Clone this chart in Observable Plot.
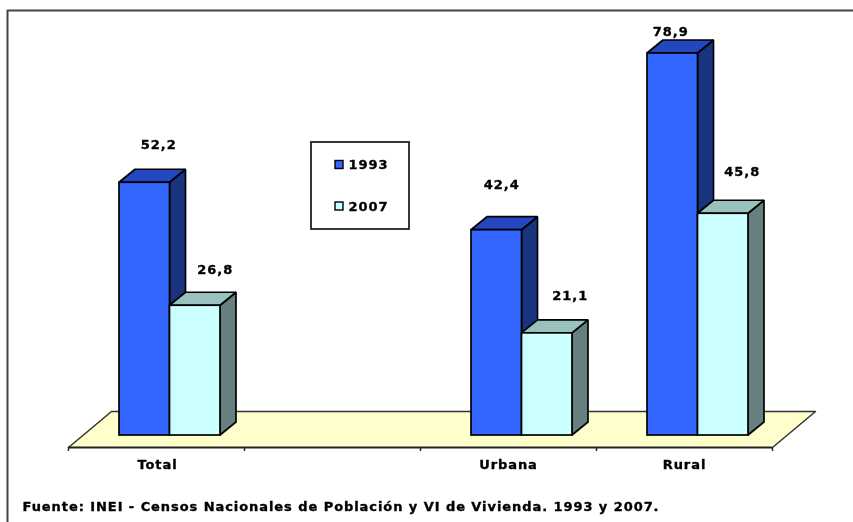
<!DOCTYPE html>
<html><head><meta charset="utf-8">
<script src="https://cdn.jsdelivr.net/npm/d3@7"></script>
<script src="https://cdn.jsdelivr.net/npm/@observablehq/plot@0.6"></script>
<style>
html,body{margin:0;padding:0;background:#fff;overflow:hidden}
svg{display:block;filter:blur(0.45px)}
svg text{letter-spacing:0.93px}
</style></head><body>
<div id="chart"></div>
<script>
const categories = ["Total", "", "Urbana", "Rural"];
const years = ["1993", "2007"];
const values1993 = [52.2, null, 42.4, 78.9];
const values2007 = [26.8, null, 21.1, 45.8];
const labels = ["52,2", "26,8", "42,4", "21,1", "78,9", "45,8"];
const labelOffsets = [[14, 38], [20, 36], [5, 45], [23, 38], [-2, 22], [19, 42]];
const colors = {"1993": {front: "#3366ff", side: "#19337f", top: "#2347bf"},
                "2007": {front: "#ccffff", side: "#667f7f", top: "#99c2bf"}};
const floorColor = "#ffffcc";
const source = "Fuente: INEI - Censos Nacionales de Población y VI de Vivienda. 1993 y 2007.";

const W = 853, H = 522;
// scale set-up: one x unit is one category slot, y is the percentage
const xRange = [68, 772], yRange = [435, 53], yMax = 78.9;
const X = p => (p - xRange[0]) / (xRange[1] - xRange[0]) * categories.length;
const Y = p => (yRange[0] - p) / (yRange[0] - yRange[1]) * yMax;
const unitX = (xRange[1] - xRange[0]) / categories.length;
const unitY = (yRange[0] - yRange[1]) / yMax;
const barW = 50.5 / unitX, barStart = 51 / unitX;
const depthX = 16 / unitX, depthY = 13 / unitY;

const bars = [];
categories.forEach((c, i) => {
  [values1993[i], values2007[i]].forEach((v, j) => {
    if (v == null) return;
    const x1 = i + barStart + j * barW;
    bars.push({year: years[j], v, x1, x2: x1 + barW});
  });
});
const faceOpts = {stroke: "#000", strokeWidth: 1.7, strokeLinejoin: "miter"};
const marks = [];

// floor
const floorL = [{y: Y(447), x1: 0, x2: 4}, {y: Y(411), x1: X(111), x2: X(815)}];
marks.push(Plot.areaX(floorL, {y: "y", x1: "x1", x2: "x2", fill: floorColor}));
marks.push(Plot.line([{x: floorL[0].x1, y: floorL[0].y}, {x: floorL[1].x1, y: floorL[1].y}, {x: floorL[1].x2, y: floorL[1].y}, {x: floorL[0].x2, y: floorL[0].y}],
  {x: "x", y: "y", stroke: "#333", strokeWidth: 1.5}));
// axis line and ticks
marks.push(Plot.ruleY([Y(447)], {x1: 0, x2: 4, stroke: "#222", strokeWidth: 1.8}));
marks.push(Plot.ruleX(d3.range(categories.length + 1), {y1: Y(447), y2: Y(451), stroke: "#222", strokeWidth: 1.4}));

// bars
bars.forEach(b => {
  const c = colors[b.year];
  // right side face
  marks.push(Plot.areaY([{x: b.x2, y1: 0, y2: b.v}, {x: b.x2 + depthX, y1: depthY, y2: b.v + depthY}],
    {x: "x", y1: "y1", y2: "y2", fill: c.side, ...faceOpts}));
  // top face
  marks.push(Plot.areaX([{y: b.v, x1: b.x1, x2: b.x2}, {y: b.v + depthY, x1: b.x1 + depthX, x2: b.x2 + depthX}],
    {y: "y", x1: "x1", x2: "x2", fill: c.top, ...faceOpts}));
  // front face
  marks.push(Plot.rect([b], {x1: "x1", x2: "x2", y1: 0, y2: "v", fill: c.front, ...faceOpts}));
});

const font = {fontFamily: "'DejaVu Sans', sans-serif", fontWeight: "bold", fontSize: 13, fill: "#000", stroke: "#000", strokeWidth: 0.35};

// value labels
marks.push(Plot.text(bars.map((b, i) => ({x: b.x1 + barW / 2 + X(68 + labelOffsets[i][0]), y: b.v + labelOffsets[i][1] / unitY, t: labels[i]})),
  {x: "x", y: "y", text: "t", ...font}));

// category labels
marks.push(Plot.text(categories.map((c, i) => ({c, x: i, p: [157 - 68, 0, 508 - 68 - 352, 684 - 68 - 528][i]})).filter(d => d.c),
  {x: d => d.x + d.p / unitX, y: Y(464), text: "c", ...font}));

// legend
marks.push(Plot.rect([0], {x1: X(311), x2: X(409), y1: Y(142), y2: Y(229), fill: "#fff", stroke: "#222", strokeWidth: 1.8}));
years.forEach((yr, i) => {
  const cy = [164.5, 206][i];
  marks.push(Plot.rect([yr], {x1: X(335), x2: X(343), y1: Y(cy - 4), y2: Y(cy + 4), fill: colors[yr].front, stroke: "#000", strokeWidth: 1.4}));
  marks.push(Plot.text([yr], {x: X(348), y: Y(cy), text: d => d, textAnchor: "start", ...font}));
});

// source
marks.push(Plot.text([source], {x: X(22), y: Y(506), text: d => d, textAnchor: "start", ...font}));

// outer border
marks.push(Plot.line([[7, 522], [7, 10], [853, 10]].map(([a, b]) => ({x: X(a), y: Y(b)})), {x: "x", y: "y", stroke: "#444", strokeWidth: 2}));

const chart = Plot.plot({
  width: W, height: H, margin: 0,
  x: {type: "linear", domain: [0, categories.length], range: xRange, axis: null},
  y: {type: "linear", domain: [0, yMax], range: yRange, axis: null},
  style: {background: "#fff"},
  marks
});
document.getElementById("chart").appendChild(chart);
</script>
</body></html>
